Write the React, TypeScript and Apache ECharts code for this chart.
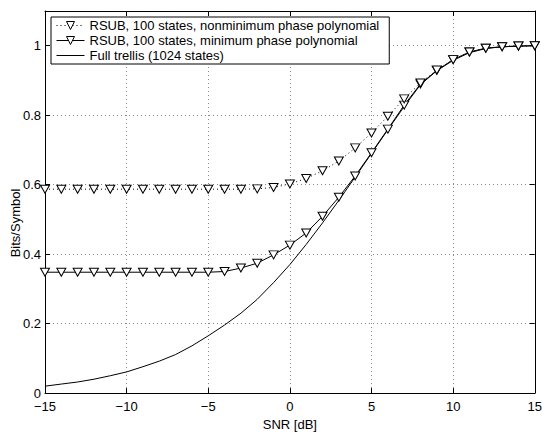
import React, { useEffect, useRef } from "react";
import * as echarts from "echarts";

const snr = [-15, -14, -13, -12, -11, -10, -9, -8, -7, -6, -5, -4, -3, -2, -1, 0, 1, 2, 3, 4, 5, 6, 7, 8, 9, 10, 11, 12, 13, 14, 15];

const nonMinPhase = [0.587, 0.587, 0.587, 0.587, 0.587, 0.587, 0.587, 0.587, 0.587, 0.587, 0.587, 0.587, 0.587, 0.588, 0.592, 0.602, 0.618, 0.64, 0.668, 0.706, 0.749, 0.797, 0.847, 0.893, 0.93, 0.96, 0.982, 0.993, 0.997, 0.999, 1.0];

const minPhase = [0.348, 0.348, 0.348, 0.348, 0.348, 0.348, 0.348, 0.348, 0.348, 0.348, 0.348, 0.35, 0.36, 0.374, 0.398, 0.426, 0.461, 0.509, 0.564, 0.625, 0.692, 0.76, 0.829, 0.89, 0.929, 0.96, 0.982, 0.993, 0.997, 0.999, 1.0];

const fullTrellis = [0.02, 0.026, 0.032, 0.04, 0.05, 0.061, 0.076, 0.092, 0.111, 0.136, 0.165, 0.196, 0.23, 0.27, 0.318, 0.37, 0.428, 0.49, 0.555, 0.622, 0.69, 0.758, 0.825, 0.888, 0.928, 0.958, 0.98, 0.992, 0.997, 0.999, 1.0];

const seriesNames = [
  "RSUB, 100 states, nonminimum phase polynomial",
  "RSUB, 100 states, minimum phase polynomial",
  "Full trellis (1024 states)",
];

const xTicks = { min: -15, max: 15, interval: 5 };
const yTicks = { min: 0, max: 1.1, interval: 0.2 };

const FONT = "Liberation Sans, Arial, Helvetica, sans-serif";

export default function App() {
  const ref = useRef<HTMLDivElement>(null);

  useEffect(() => {
    if (!ref.current) return;
    const chart = echarts.init(ref.current, undefined, { renderer: "svg" });
    const pairs = (ys: number[]) => snr.map((x, i) => [x, ys[i]]);
    const gridLine = { show: true, lineStyle: { color: "#888", width: 1, type: [1, 3] as any } };
    const axisLine = { show: true, onZero: false, lineStyle: { color: "#000", width: 1 } };
    const tick = { show: true, inside: true, length: 5, lineStyle: { color: "#000" } };
    const markerStyle = { color: "#fff", borderColor: "#000", borderWidth: 1 };
    const marker = {
      symbol: "triangle",
      symbolRotate: 180,
      symbolSize: [9, 8],
      itemStyle: markerStyle,
    };
    chart.setOption({
      animation: false,
      backgroundColor: "#fff",
      textStyle: { fontFamily: FONT },
      grid: { left: 45, right: 7, top: 11, bottom: 37 },
      legend: {
        orient: "vertical",
        left: 51,
        top: 17,
        backgroundColor: "#fff",
        borderColor: "#000",
        borderWidth: 1,
        borderRadius: 0,
        padding: [2, 10, 2, 5],
        itemGap: 2,
        itemWidth: 28,
        itemHeight: 10,
        textStyle: { fontSize: 13, color: "#000", fontFamily: FONT, lineHeight: 13 },
        data: [
          { name: seriesNames[0], itemStyle: markerStyle, lineStyle: { width: 1, color: "#000", type: [1, 3] } },
          { name: seriesNames[1], itemStyle: markerStyle, lineStyle: { width: 1, color: "#000", type: "solid" } },
          { name: seriesNames[2], itemStyle: { opacity: 0 }, lineStyle: { width: 1, color: "#000", type: "solid" } },
        ],
      },
      xAxis: [
        {
          type: "value",
          ...xTicks,
          position: "bottom",
          axisLine,
          axisTick: tick,
          splitLine: gridLine,
          axisLabel: {
            color: "#000",
            fontSize: 13,
            fontFamily: FONT,
            margin: 7,
            formatter: (v: number) => (v < 0 ? "\u2212" + Math.abs(v) : String(v)),
          },
          name: "SNR [dB]",
          nameLocation: "middle",
          nameGap: 20,
          nameTextStyle: { color: "#000", fontSize: 13, fontFamily: FONT },
        },
        {
          type: "value",
          ...xTicks,
          position: "top",
          axisLine,
          axisTick: tick,
          splitLine: { show: false },
          axisLabel: { show: false },
        },
      ],
      yAxis: [
        {
          type: "value",
          ...yTicks,
          position: "left",
          axisLine,
          axisTick: tick,
          splitLine: gridLine,
          axisLabel: {
            color: "#000",
            fontSize: 13,
            fontFamily: FONT,
            margin: 4,
            formatter: (v: number) => (v > 1.05 ? "" : String(Math.round(v * 10) / 10)),
          },
        },
        {
          type: "value",
          ...yTicks,
          position: "right",
          axisLine,
          axisTick: tick,
          splitLine: { show: false },
          axisLabel: { show: false },
        },
      ],
      graphic: [
        {
          type: "text",
          x: 15,
          y: 223,
          rotation: Math.PI / 2,
          style: {
            text: "Bits/Symbol",
            font: "13px " + FONT,
            fill: "#000",
            textAlign: "center",
            textVerticalAlign: "middle",
          },
        },
      ],
      series: [
        {
          name: seriesNames[2],
          type: "line",
          data: pairs(fullTrellis),
          showSymbol: false,
          symbol: "none",
          lineStyle: { color: "#000", width: 1 },
          itemStyle: { color: "#000" },
          z: 2,
        },
        {
          name: seriesNames[1],
          type: "line",
          data: pairs(minPhase),
          ...marker,
          lineStyle: { color: "#000", width: 1 },
          z: 3,
        },
        {
          name: seriesNames[0],
          type: "line",
          data: pairs(nonMinPhase),
          ...marker,
          lineStyle: { color: "#000", width: 1, type: [1, 3] },
          z: 4,
        },
      ],
    });
    return () => chart.dispose();
  }, []);

  return (
    <div
      ref={ref}
      style={{ position: "fixed", left: 0, top: 0, width: 545, height: 436, background: "#fff" }}
    />
  );
}
